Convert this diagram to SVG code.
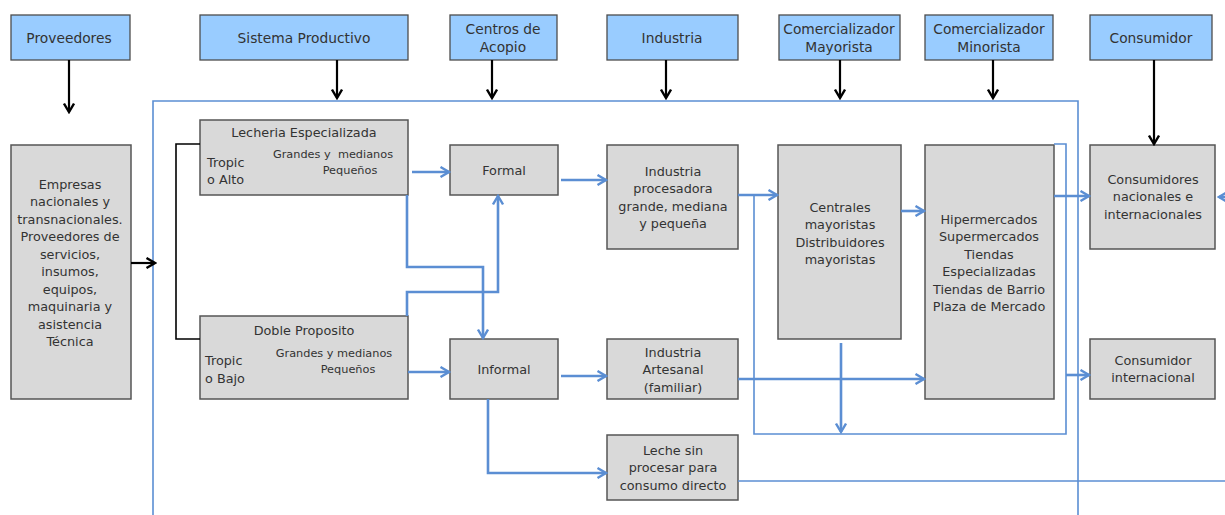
<svg xmlns="http://www.w3.org/2000/svg" width="1225" height="515" viewBox="0 0 1225 515">
<style>
.hb{fill:#99CCFF;stroke:#4d4d4d;stroke-width:1.3}
.gb{fill:#D9D9D9;stroke:#555;stroke-width:1.5}
.h{font-family:"DejaVu Sans",Verdana,sans-serif;font-size:13.8px;fill:#333;text-anchor:middle}
.t{font-family:"DejaVu Sans",Verdana,sans-serif;font-size:12.8px;fill:#333;text-anchor:middle}
.tl{font-family:"DejaVu Sans",Verdana,sans-serif;font-size:12.8px;fill:#333}
.s{font-family:"DejaVu Sans",Verdana,sans-serif;font-size:11.3px;fill:#333;text-anchor:middle}
.k{fill:none;stroke:#000;stroke-width:2.2}
.b{fill:none;stroke:#5B8ED3;stroke-width:2.6}
.bt{fill:none;stroke:#5B8ED3;stroke-width:1.6}
</style>
<defs>
<marker id="ak" viewBox="0 0 12 12" refX="10" refY="6" markerWidth="12" markerHeight="12" markerUnits="userSpaceOnUse" orient="auto">
<path d="M1.5,1 L10,6 L1.5,11" fill="none" stroke="#000" stroke-width="2.4"/>
</marker>
<marker id="ab" viewBox="0 0 12 12" refX="10" refY="6" markerWidth="12" markerHeight="12" markerUnits="userSpaceOnUse" orient="auto">
<path d="M1.5,1 L10,6 L1.5,11" fill="none" stroke="#5B8ED3" stroke-width="2.4"/>
</marker>
</defs>
<rect width="1225" height="515" fill="#fff"/>

<g id="hdr-proveedores"><rect class="hb" x="11" y="15" width="119" height="45"/><text class="h" x="69" y="43">Proveedores</text></g>
<g id="hdr-sistema"><rect class="hb" x="200" y="15" width="208" height="45"/><text class="h" x="304" y="43">Sistema Productivo</text></g>
<g id="hdr-acopio"><rect class="hb" x="450" y="15" width="107" height="45"/><text class="h" x="503" y="34">Centros de</text><text class="h" x="503" y="52">Acopio</text></g>
<g id="hdr-industria"><rect class="hb" x="607" y="15" width="131" height="45"/><text class="h" x="672" y="43">Industria</text></g>
<g id="hdr-mayorista"><rect class="hb" x="779" y="15" width="121" height="45"/><text class="h" x="839" y="34">Comercializador</text><text class="h" x="839" y="52">Mayorista</text></g>
<g id="hdr-minorista"><rect class="hb" x="925" y="15" width="128" height="45"/><text class="h" x="989" y="34">Comercializador</text><text class="h" x="989" y="52">Minorista</text></g>
<g id="hdr-consumidor"><rect class="hb" x="1090" y="15" width="122" height="45"/><text class="h" x="1151" y="43">Consumidor</text></g>

<g id="empresas"><rect class="gb" x="11" y="145" width="120" height="254"/>
<text class="t" x="70" y="188.5">Empresas<tspan x="70" dy="17.5">nacionales y</tspan><tspan x="70" dy="17.5">transnacionales.</tspan><tspan x="70" dy="17.5">Proveedores de</tspan><tspan x="70" dy="17.5">servicios,</tspan><tspan x="70" dy="17.5">insumos,</tspan><tspan x="70" dy="17.5">equipos,</tspan><tspan x="70" dy="17.5">maquinaria y</tspan><tspan x="70" dy="17.5">asistencia</tspan><tspan x="70" dy="17.5">Técnica</tspan></text></g>

<g id="lecheria"><rect class="gb" x="200" y="120" width="208" height="75"/>
<text class="t" x="304" y="136.5">Lecheria Especializada</text>
<text class="tl" x="207" y="166.5">Tropic</text><text class="tl" x="207" y="183.5">o Alto</text>
<text class="s" x="333" y="158" xml:space="preserve">Grandes y  medianos</text>
<text class="s" x="350" y="174">Pequeños</text></g>

<g id="doble"><rect class="gb" x="200" y="316" width="208" height="83"/>
<text class="t" x="304" y="334.5">Doble Proposito</text>
<text class="tl" x="205" y="364.5">Tropic</text><text class="tl" x="205" y="382.5">o Bajo</text>
<text class="s" x="334" y="357">Grandes y medianos</text>
<text class="s" x="348" y="373">Pequeños</text></g>

<g id="formal"><rect class="gb" x="450" y="145" width="108" height="50"/><text class="t" x="504" y="174.5">Formal</text></g>
<g id="informal"><rect class="gb" x="450" y="339" width="108" height="60"/><text class="t" x="504" y="373.5">Informal</text></g>

<g id="ind-procesadora"><rect class="gb" x="607" y="145" width="131" height="104"/>
<text class="t" x="673" y="175.5">Industria<tspan x="673" dy="17.5">procesadora</tspan><tspan x="673" dy="17.5">grande, mediana</tspan><tspan x="673" dy="17.5">y pequeña</tspan></text></g>

<g id="ind-artesanal"><rect class="gb" x="607" y="339" width="131" height="60"/>
<text class="t" x="673" y="356.5">Industria<tspan x="673" dy="17.5">Artesanal</tspan><tspan x="673" dy="17.5">(familiar)</tspan></text></g>

<g id="leche"><rect class="gb" x="607" y="435" width="131" height="65"/>
<text class="t" x="673" y="454.5">Leche sin<tspan x="673" dy="17.5">procesar para</tspan><tspan x="673" dy="17.5">consumo directo</tspan></text></g>

<g id="centrales"><rect class="gb" x="778" y="145" width="123" height="194"/>
<text class="t" x="840" y="211.5">Centrales<tspan x="840" dy="17.5">mayoristas</tspan><tspan x="840" dy="17.5">Distribuidores</tspan><tspan x="840" dy="17.5">mayoristas</tspan></text></g>

<g id="hiper"><rect class="gb" x="925" y="145" width="129" height="254"/>
<text class="t" x="989" y="223.5">Hipermercados<tspan x="989" dy="17.5">Supermercados</tspan><tspan x="989" dy="17.5">Tiendas</tspan><tspan x="989" dy="17.5">Especializadas</tspan><tspan x="989" dy="17.5">Tiendas de Barrio</tspan><tspan x="989" dy="17.5">Plaza de Mercado</tspan></text></g>

<g id="consumidores"><rect class="gb" x="1090" y="145" width="125" height="104"/>
<text class="t" x="1153" y="183.5">Consumidores<tspan x="1153" dy="17.5">nacionales e</tspan><tspan x="1153" dy="17.5">internacionales</tspan></text></g>

<g id="consumidor-int"><rect class="gb" x="1090" y="339" width="125" height="60"/>
<text class="t" x="1153" y="364.5">Consumidor<tspan x="1153" dy="17.5">internacional</tspan></text></g>

<g id="connectors">
<path class="bt" d="M153,520 V101 H1078 V520"/>
<path class="k" d="M69,60 V112" marker-end="url(#ak)"/>
<path class="k" d="M337,60 V98" marker-end="url(#ak)"/>
<path class="k" d="M492,60 V98" marker-end="url(#ak)"/>
<path class="k" d="M666,60 V98" marker-end="url(#ak)"/>
<path class="k" d="M840,60 V98" marker-end="url(#ak)"/>
<path class="k" d="M993,60 V98" marker-end="url(#ak)"/>
<path class="k" d="M1154,60 V144" marker-end="url(#ak)"/>
<path class="k" d="M131,263 H155" marker-end="url(#ak)"/>
<path fill="none" stroke="#000" stroke-width="1.6" d="M200,144 H176 V339 H200"/>
<path class="b" d="M412,172 H449" marker-end="url(#ab)"/>
<path class="b" d="M408,372 H449" marker-end="url(#ab)"/>
<path class="b" d="M407,195 V267 H483 V338" marker-end="url(#ab)"/>
<path class="b" d="M407,316 V292 H498 V196" marker-end="url(#ab)"/>
<path class="b" d="M561,180 H606" marker-end="url(#ab)"/>
<path class="b" d="M561,376 H606" marker-end="url(#ab)"/>
<path class="b" d="M488,399 V473 H606" marker-end="url(#ab)"/>
<path class="b" d="M738,195 H777" marker-end="url(#ab)"/>
<path class="bt" d="M754,195 V434 H1066 V144 H1054"/>
<path class="b" d="M901,211 H924" marker-end="url(#ab)"/>
<path class="b" d="M841,343 V432" marker-end="url(#ab)"/>
<path class="b" d="M738,379 H924" marker-end="url(#ab)"/>
<path class="b" d="M1054,196 H1089" marker-end="url(#ab)"/>
<path class="b" d="M1066,375 H1089" marker-end="url(#ab)"/>
<path class="bt" d="M738,481 H1225"/>
<path class="b" d="M1230,197 H1219" marker-end="url(#ab)"/>
</g>
</svg>
